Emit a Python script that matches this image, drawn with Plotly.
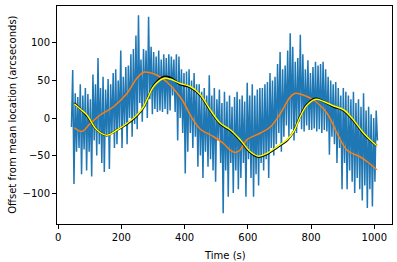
import plotly.graph_objects as go

# ---- data ----
blue_values = [
    -12, 64, -88, 33, -45, 28, -40, 45, -75, 30,
    -42, 40, -70, 32, -45, 25, -78, 58, -30, 45,
    -50, 80, -35, 40, -60, 55, -72, 38, -25, 52,
    -68, 45, -20, 60, -40, 65, -35, 50, -15, 90,
    -40, 55, -10, 68, -35, 70, 0, 85, -25, 92,
    -8, 110, -15, 137, 20, 78, -5, 92, 15, 90,
    0, 135, 25, 95, 5, 88, 12, 82, 8, 90,
    10, 78, 8, 85, 12, 80, 5, 85, 10, 82,
    30, 78, 8, 85, -30, 82, 0, 65, -20, 60,
    -74, 62, -45, 65, -20, 50, -40, 60, -25, 45,
    -65, 45, -50, 35, -80, 40, -45, 30, -65, 57,
    -55, 30, -70, 40, -85, 25, -30, 38, -60, 20,
    -127, 35, -70, 22, -105, 30, -60, 15, -100, 28,
    -70, 35, -95, 25, -80, 30, -60, 22, -105, 47,
    -55, 30, -80, 45, -105, 30, -75, 38, -90, 40,
    -60, 40, -70, 45, -55, 48, -80, 60, -40, 50,
    -50, 55, -35, 72, -20, 88, -45, 65, -25, 70,
    -10, 90, -25, 113, -15, 95, -30, 75, -20, 80,
    -5, 111, -15, 85, -18, 65, -10, 77, -16, 60,
    -16, 68, -14, 75, -18, 70, -15, 72, -20, 75,
    -16, 65, -18, 55, -49, 50, -25, 45, -35, 48,
    -60, 40, -40, 30, -95, 40, -60, 35, -95, 30,
    -70, 25, -85, 35, -100, 20, -80, 25, -95, 15,
    -110, 33, -90, 10, -120, 15, -95, 5, -118, 0,
    -85, 10, -30,
]
blue_start = 42
blue_step = 4
blue_time = [blue_start + blue_step * i for i in range(len(blue_values))]

orange_time = [51, 75, 100, 133, 175, 218, 249, 270, 285, 313, 344, 386, 428, 450,
               492, 523, 545, 560, 575, 597, 640, 671, 703, 734, 750, 766, 808,
               851, 882, 914, 956, 980, 1008]
orange_values = [-13, -18, -8, 4, 15, 33, 53, 61, 61, 57, 48, 28, -3, -15,
                 -25, -34, -43, -46, -43, -29, -20, -12, 6, 28, 33, 32, 24,
                 6, -20, -43, -52, -59, -69]

yellow_time = [51, 70, 91, 123, 154, 186, 218, 249, 270, 285, 302, 334, 354, 386,
               418, 450, 481, 513, 545, 576, 608, 634, 661, 693, 724, 745, 766,
               787, 814, 840, 872, 903, 935, 966, 1008]
yellow_values = [19, 12, 4, -16, -23, -16, -7, 4, 15, 28, 42, 53, 52, 46,
                 42, 31, 11, -7, -16, -29, -45, -51, -47, -38, -29, -18, 2,
                 17, 25, 22, 16, 11, -3, -20, -37]
black_values = [20, 12, 3, -16, -23, -16, -8, 3, 14, 28, 43, 55, 54, 45,
                41, 30, 10, -8, -17, -30, -46, -52, -48, -39, -30, -18, 3,
                18, 26, 22, 15, 10, -4, -21, -37]

x_ticks = [0, 200, 400, 600, 800, 1000]
y_ticks = [-100, -50, 0, 50, 100]

FONT = "DejaVu Sans"

fig = go.Figure()
fig.add_trace(go.Scatter(x=blue_time, y=blue_values, mode="lines",
                         line=dict(color="#1f77b4", width=1.5), showlegend=False))
fig.add_trace(go.Scatter(x=orange_time, y=orange_values, mode="lines",
                         line=dict(color="#ff7f0e", width=1.5, shape="spline", smoothing=1),
                         showlegend=False))
fig.add_trace(go.Scatter(x=yellow_time, y=black_values, mode="lines",
                         line=dict(color="black", width=2.1, shape="spline", smoothing=1),
                         showlegend=False))
fig.add_trace(go.Scatter(x=yellow_time, y=yellow_values, mode="lines",
                         line=dict(color="#ffff00", width=1.5, shape="spline", smoothing=1),
                         showlegend=False))

axis_common = dict(showgrid=False, zeroline=False, showline=True, mirror=True,
                   linecolor="black", linewidth=1, ticks="outside", ticklen=4,
                   tickwidth=1, tickcolor="black", automargin=False,
                   tickfont=dict(family=FONT, size=10, color="black"))

fig.update_layout(
    width=397, height=262,
    margin=dict(l=57, r=5, t=6, b=38),
    paper_bgcolor="white", plot_bgcolor="white",
    font=dict(family=FONT, size=10, color="black"),
    xaxis=dict(range=[-3.7, 1056], tickvals=x_ticks, **axis_common),
    yaxis=dict(range=[-141.3, 149.3], tickvals=y_ticks, **axis_common),
    annotations=[
        dict(text="Time (s)", xref="paper", yref="paper", x=0.5, y=-0.11,
             xanchor="center", yanchor="top", showarrow=False,
             font=dict(family=FONT, size=10, color="black")),
        dict(text="Offset from mean location (arcseconds)", xref="paper", yref="paper",
             x=-0.135, y=0.5, xanchor="center", yanchor="middle", textangle=-90,
             showarrow=False, font=dict(family=FONT, size=10, color="black")),
    ],
)

fig.write_html("out.html", config={"displayModeBar": False},
               post_script="document.body.style.margin='0';document.body.style.padding='0';")
